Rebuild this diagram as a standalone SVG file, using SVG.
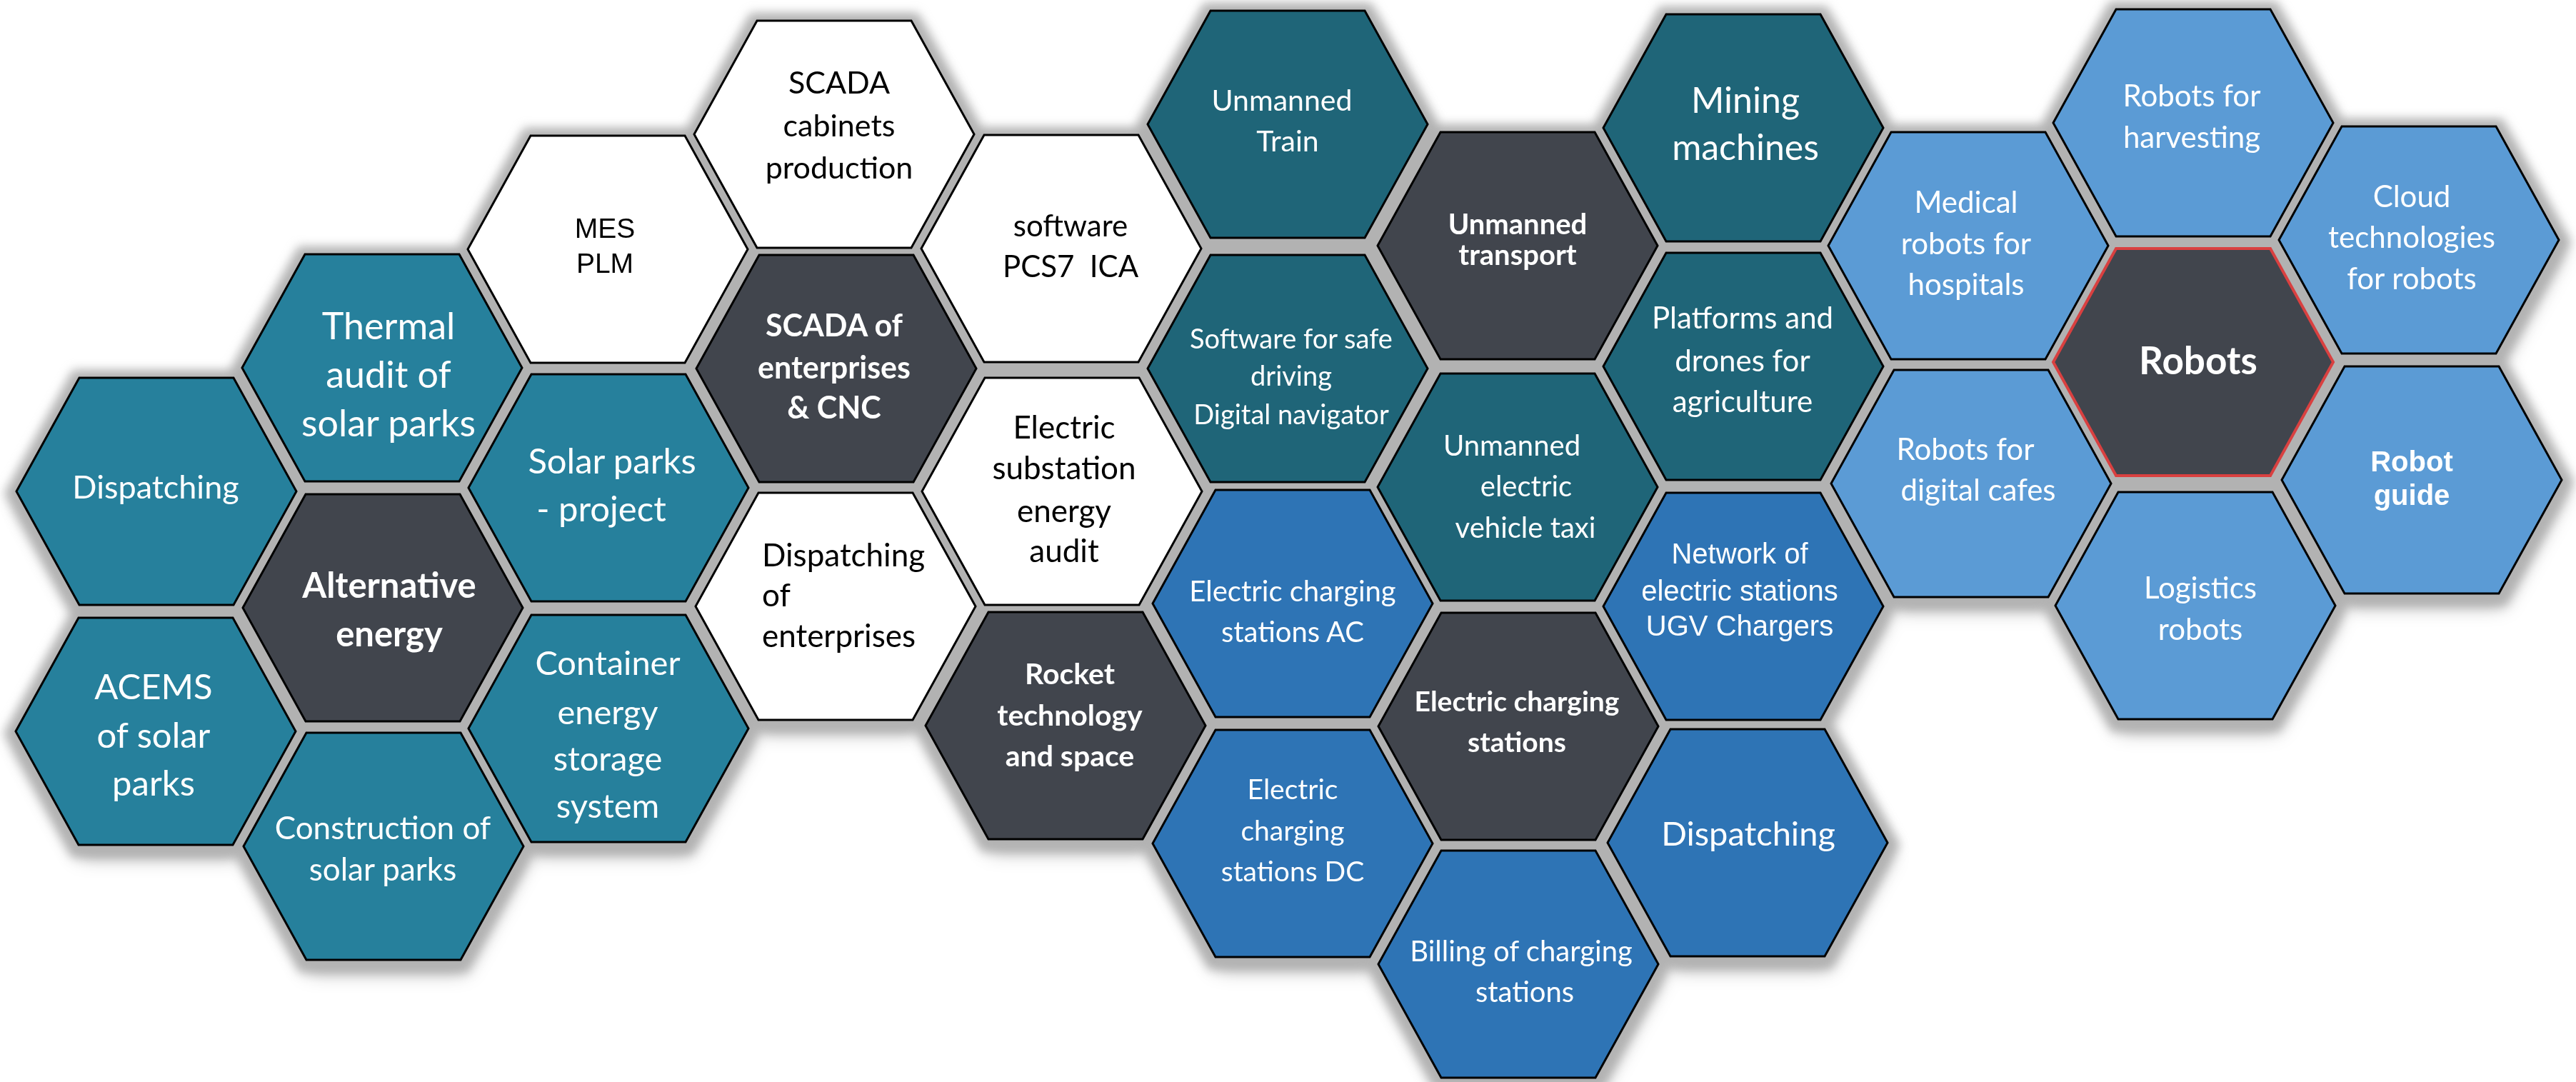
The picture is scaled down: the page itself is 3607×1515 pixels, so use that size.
<svg xmlns="http://www.w3.org/2000/svg" xmlns:xlink="http://www.w3.org/1999/xlink" width="3607" height="1515" viewBox="0 0 3607 1515">
<style>
.teal{fill:#26809C;stroke:#000;stroke-width:3}
.dteal{fill:#1F6578;stroke:#000;stroke-width:3}
.hub{fill:#41454D;stroke:#000;stroke-width:3}
.blue{fill:#2E74B5;stroke:#000;stroke-width:3}
.lblue{fill:#5B9BD5;stroke:#000;stroke-width:3}
.white{fill:#FFFFFF;stroke:#000;stroke-width:3}
.red{fill:#41454D;stroke:#D94040;stroke-width:4}
text{font-family:Lato,"Liberation Sans",sans-serif;fill:#FFFFFF;text-anchor:middle}
.b{font-weight:700}
.k{fill:#000000}
.a{font-family:"Liberation Sans",Arial,sans-serif}
</style>
<defs>
<polygon id="hx" points="-196,0 -108,-159 108,-159 196,0 108,159 -108,159"/>
<polygon id="hg" points="-213,0 -117,-173 117,-173 213,0 117,173 -117,173"/>
<filter id="soft" x="-5%" y="-10%" width="110%" height="125%"><feGaussianBlur stdDeviation="7"/></filter>
<filter id="cast" x="-5%" y="-10%" width="110%" height="125%"><feGaussianBlur stdDeviation="14"/></filter>
</defs>
<rect width="3607" height="1515" fill="#FFFFFF"/>
<g id="shadow" filter="url(#cast)" fill="#000" fill-opacity="0.35" transform="translate(4,16)">
<use href="#hx" x="219" y="688"/><use href="#hx" x="218" y="1024"/>
<use href="#hx" x="535" y="515"/><use href="#hx" x="536" y="851"/><use href="#hx" x="537" y="1185"/>
<use href="#hx" x="851" y="349"/><use href="#hx" x="852" y="683"/><use href="#hx" x="852" y="1020"/>
<use href="#hx" x="1168" y="188"/><use href="#hx" x="1171" y="516"/><use href="#hx" x="1170" y="849"/>
<use href="#hx" x="1486" y="348"/><use href="#hx" x="1487" y="688"/><use href="#hx" x="1492" y="1016"/>
<use href="#hx" x="1803" y="174"/><use href="#hx" x="1803" y="516"/><use href="#hx" x="1810" y="845"/><use href="#hx" x="1810" y="1181"/>
<use href="#hx" x="2125" y="344"/><use href="#hx" x="2125" y="682"/><use href="#hx" x="2126" y="1017"/><use href="#hx" x="2126" y="1350"/>
<use href="#hx" x="2441" y="179"/><use href="#hx" x="2441" y="513"/><use href="#hx" x="2441" y="849"/><use href="#hx" x="2447" y="1180"/>
<use href="#hx" x="2756" y="344"/><use href="#hx" x="2760" y="677"/>
<use href="#hx" x="3071" y="172"/><use href="#hx" x="3071" y="507"/><use href="#hx" x="3074" y="848"/>
<use href="#hx" x="3387" y="336"/><use href="#hx" x="3391" y="672"/>
</g>
<g id="grout" filter="url(#soft)" fill="#B2B2B2" transform="translate(0,3)">
<use href="#hg" x="219" y="688"/><use href="#hg" x="218" y="1024"/>
<use href="#hg" x="535" y="515"/><use href="#hg" x="536" y="851"/><use href="#hg" x="537" y="1185"/>
<use href="#hg" x="851" y="349"/><use href="#hg" x="852" y="683"/><use href="#hg" x="852" y="1020"/>
<use href="#hg" x="1168" y="188"/><use href="#hg" x="1171" y="516"/><use href="#hg" x="1170" y="849"/>
<use href="#hg" x="1486" y="348"/><use href="#hg" x="1487" y="688"/><use href="#hg" x="1492" y="1016"/>
<use href="#hg" x="1803" y="174"/><use href="#hg" x="1803" y="516"/><use href="#hg" x="1810" y="845"/><use href="#hg" x="1810" y="1181"/>
<use href="#hg" x="2125" y="344"/><use href="#hg" x="2125" y="682"/><use href="#hg" x="2126" y="1017"/><use href="#hg" x="2126" y="1350"/>
<use href="#hg" x="2441" y="179"/><use href="#hg" x="2441" y="513"/><use href="#hg" x="2441" y="849"/><use href="#hg" x="2447" y="1180"/>
<use href="#hg" x="2756" y="344"/><use href="#hg" x="2760" y="677"/>
<use href="#hg" x="3071" y="172"/><use href="#hg" x="3071" y="507"/><use href="#hg" x="3074" y="848"/>
<use href="#hg" x="3387" y="336"/><use href="#hg" x="3391" y="672"/>
</g>

<g id="n-dispatching-1"><use href="#hx" x="219" y="688" class="teal"/>
<text font-size="45"><tspan x="218" y="698">Dispatching</tspan></text></g>
<g id="n-thermal"><use href="#hx" x="535" y="515" class="teal"/>
<text font-size="52"><tspan x="544" y="475">Thermal</tspan><tspan x="544" y="543">audit of</tspan><tspan x="544" y="611">solar parks</tspan></text></g>
<g id="n-alternative"><use href="#hx" x="536" y="851" class="hub"/>
<text font-size="49" class="b"><tspan x="545" y="837">Alternative</tspan><tspan x="545" y="905">energy</tspan></text></g>
<g id="n-acems"><use href="#hx" x="218" y="1024" class="teal"/>
<text font-size="49"><tspan x="215" y="979">ACEMS</tspan><tspan x="215" y="1047">of solar</tspan><tspan x="215" y="1114">parks</tspan></text></g>
<g id="n-construction"><use href="#hx" x="537" y="1185" class="teal"/>
<text font-size="44"><tspan x="536" y="1175">Construction of</tspan><tspan x="536" y="1233">solar parks</tspan></text></g>
<g id="n-solar-project"><use href="#hx" x="852" y="683" class="teal"/>
<text font-size="49"><tspan x="857" y="663">Solar parks</tspan><tspan x="842" y="730">- project</tspan></text></g>
<g id="n-container"><use href="#hx" x="852" y="1020" class="teal"/>
<text font-size="47"><tspan x="851" y="945">Container</tspan><tspan x="851" y="1014">energy</tspan><tspan x="851" y="1079">storage</tspan><tspan x="851" y="1145">system</tspan></text></g>

<g id="n-mes"><use href="#hx" x="851" y="349" class="white"/>
<text font-size="39" class="a k"><tspan x="847" y="333">MES</tspan><tspan x="847" y="382">PLM</tspan></text></g>
<g id="n-scada-cabinets"><use href="#hx" x="1168" y="188" class="white"/>
<text font-size="43" class="k"><tspan x="1175" y="131">SCADA</tspan><tspan x="1175" y="191">cabinets</tspan><tspan x="1175" y="250">production</tspan></text></g>
<g id="n-scada-enterprises"><use href="#hx" x="1171" y="516" class="hub"/>
<text font-size="43" class="b"><tspan x="1168" y="471">SCADA of</tspan><tspan x="1168" y="530">enterprises</tspan><tspan x="1168" y="586">&amp; CNC</tspan></text></g>
<g id="n-dispatching-enterprises"><use href="#hx" x="1170" y="849" class="white"/>
<text font-size="44" class="k" text-anchor="start" style="text-anchor:start"><tspan x="1067" y="793">Dispatching</tspan><tspan x="1067" y="849">of</tspan><tspan x="1067" y="906">enterprises</tspan></text></g>
<g id="n-pcs7"><use href="#hx" x="1486" y="348" class="white"/>
<text font-size="42" class="k"><tspan x="1499" y="331">software</tspan><tspan x="1499" y="388">PCS7&#160; ICA</tspan></text></g>
<g id="n-substation"><use href="#hx" x="1487" y="688" class="white"/>
<text font-size="44" class="k"><tspan x="1490" y="614">Electric</tspan><tspan x="1490" y="671">substation</tspan><tspan x="1490" y="731">energy</tspan><tspan x="1490" y="787">audit</tspan></text></g>
<g id="n-rocket"><use href="#hx" x="1492" y="1016" class="hub"/>
<text font-size="41" class="b"><tspan x="1498" y="958">Rocket</tspan><tspan x="1498" y="1016">technology</tspan><tspan x="1498" y="1073">and space</tspan></text></g>

<g id="n-unmanned-train"><use href="#hx" x="1803" y="174" class="dteal"/>
<text font-size="41"><tspan x="1795" y="155">Unmanned</tspan><tspan x="1803" y="212">Train</tspan></text></g>
<g id="n-safe-driving"><use href="#hx" x="1803" y="516" class="dteal"/>
<text font-size="38"><tspan x="1808" y="488">Software for safe</tspan><tspan x="1808" y="540">driving</tspan><tspan x="1808" y="594">Digital navigator</tspan></text></g>
<g id="n-charging-ac"><use href="#hx" x="1810" y="845" class="blue"/>
<text font-size="40"><tspan x="1810" y="842">Electric charging</tspan><tspan x="1810" y="899">stations AC</tspan></text></g>
<g id="n-charging-dc"><use href="#hx" x="1810" y="1181" class="blue"/>
<text font-size="39"><tspan x="1810" y="1119">Electric</tspan><tspan x="1810" y="1177">charging</tspan><tspan x="1810" y="1234">stations DC</tspan></text></g>
<g id="n-unmanned-transport"><use href="#hx" x="2125" y="344" class="hub"/>
<text font-size="40" class="b"><tspan x="2125" y="328">Unmanned</tspan><tspan x="2125" y="371">transport</tspan></text></g>
<g id="n-taxi"><use href="#hx" x="2125" y="682" class="dteal"/>
<text font-size="40"><tspan x="2117" y="638">Unmanned</tspan><tspan x="2137" y="695">electric</tspan><tspan x="2136" y="753">vehicle taxi</tspan></text></g>
<g id="n-charging-stations"><use href="#hx" x="2126" y="1017" class="hub"/>
<text font-size="39" class="b"><tspan x="2124" y="996">Electric charging</tspan><tspan x="2124" y="1053">stations</tspan></text></g>
<g id="n-billing"><use href="#hx" x="2126" y="1350" class="blue"/>
<text font-size="40"><tspan x="2130" y="1346">Billing of charging</tspan><tspan x="2135" y="1403">stations</tspan></text></g>
<g id="n-mining"><use href="#hx" x="2441" y="179" class="dteal"/>
<text font-size="50"><tspan x="2444" y="158">Mining</tspan><tspan x="2444" y="224">machines</tspan></text></g>
<g id="n-platforms"><use href="#hx" x="2441" y="513" class="dteal"/>
<text font-size="42"><tspan x="2440" y="460">Platforms and</tspan><tspan x="2440" y="520">drones for</tspan><tspan x="2440" y="577">agriculture</tspan></text></g>
<g id="n-network"><use href="#hx" x="2441" y="849" class="blue"/>
<text font-size="40" class="a"><tspan x="2436" y="789">Network of</tspan><tspan x="2436" y="841">electric stations</tspan><tspan x="2436" y="890">UGV Chargers</tspan></text></g>
<g id="n-dispatching-2"><use href="#hx" x="2447" y="1180" class="blue"/>
<text font-size="47"><tspan x="2448" y="1184">Dispatching</tspan></text></g>

<g id="n-medical"><use href="#hx" x="2756" y="344" class="lblue"/>
<text font-size="42"><tspan x="2753" y="298">Medical</tspan><tspan x="2753" y="356">robots for</tspan><tspan x="2753" y="413">hospitals</tspan></text></g>
<g id="n-cafes"><use href="#hx" x="2760" y="677" class="lblue"/>
<text font-size="42"><tspan x="2752" y="644">Robots for</tspan><tspan x="2770" y="701">digital cafes</tspan></text></g>
<g id="n-harvesting"><use href="#hx" x="3071" y="172" class="lblue"/>
<text font-size="42"><tspan x="3069" y="149">Robots for</tspan><tspan x="3069" y="207">harvesting</tspan></text></g>
<g id="n-robots"><use href="#hx" x="3071" y="507" class="red"/>
<text font-size="53" class="b"><tspan x="3078" y="524">Robots</tspan></text></g>
<g id="n-logistics"><use href="#hx" x="3074" y="848" class="lblue"/>
<text font-size="42"><tspan x="3081" y="838">Logistics</tspan><tspan x="3081" y="896">robots</tspan></text></g>
<g id="n-cloud"><use href="#hx" x="3387" y="336" class="lblue"/>
<text font-size="42"><tspan x="3377" y="290">Cloud</tspan><tspan x="3377" y="347">technologies</tspan><tspan x="3377" y="405">for robots</tspan></text></g>
<g id="n-robot-guide"><use href="#hx" x="3391" y="672" class="lblue"/>
<text font-size="40" class="a b"><tspan x="3377" y="660">Robot</tspan><tspan x="3377" y="707">guide</tspan></text></g>
</svg>
